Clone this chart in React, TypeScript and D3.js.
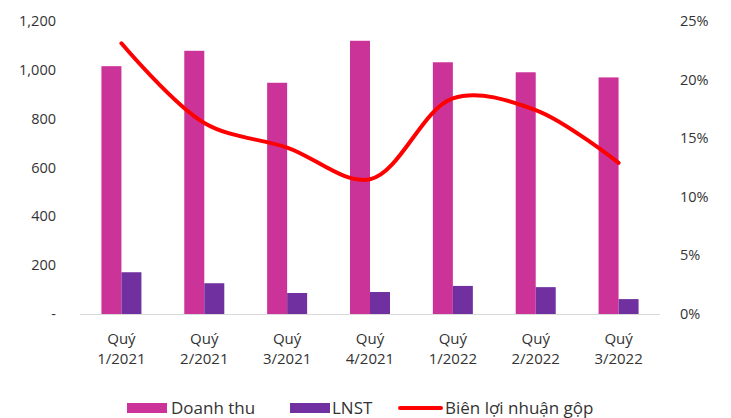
import React from "react";
import * as d3 from "d3";

const quarters = ["Quý\n1/2021", "Quý\n2/2021", "Quý\n3/2021", "Quý\n4/2021", "Quý\n1/2022", "Quý\n2/2022", "Quý\n3/2022"];
const revenue = [1015, 1078, 947, 1119, 1031, 990, 969];
const profit = [171, 126, 86, 90, 115, 110, 61];
const grossMargin = [0.231, 0.163, 0.142, 0.115, 0.184, 0.174, 0.129];
const leftTicks = [0, 200, 400, 600, 800, 1000, 1200];
const rightTicks = [0, 0.05, 0.1, 0.15, 0.2, 0.25];

const W = 731;
const H = 418;
const plot = { left: 80, right: 660, top: 21, bottom: 314 };
const FONT = "'Open Sans', 'Noto Sans', sans-serif";
const PINK = "#CC3399";
const PURPLE = "#7030A0";
const RED = "#FF0000";

export default function App() {
  const x = d3.scaleBand<string>().domain(quarters).range([plot.left, plot.right]);
  const yL = d3.scaleLinear().domain([0, 1200]).range([plot.bottom, plot.top]);
  const yR = d3.scaleLinear().domain([0, 0.25]).range([plot.bottom, plot.top]);
  const barW = 20;
  const cx = (q: string) => (x(q) as number) + x.bandwidth() / 2;

  const line = d3
    .line<number>()
    .x((_, i) => cx(quarters[i]))
    .y((d) => yR(d))
    .curve(d3.curveCatmullRom.alpha(0.5));

  const fmtL = (v: number) => (v === 0 ? "-" : d3.format(",")(v));
  const fmtR = d3.format(".0%");

  return (
    <svg width={W} height={H} style={{ position: "absolute", left: 0, top: 0 }} fontFamily={FONT}>
      <rect width={W} height={H} fill="#fff" />
      {leftTicks.map((t) => (
        <text key={"l" + t} x={56} y={yL(t) + 5} textAnchor="end" fontSize={14.5} fill="#333">
          {fmtL(t)}
        </text>
      ))}
      {rightTicks.map((t) => (
        <text key={"r" + t} x={680} y={yR(t) + 5} textAnchor="start" fontSize={14.5} fill="#333">
          {fmtR(t)}
        </text>
      ))}
      {quarters.map((q, i) => (
        <g key={q}>
          <rect x={cx(q) - barW} y={yL(revenue[i])} width={barW} height={plot.bottom - yL(revenue[i])} fill={PINK} />
          <rect x={cx(q)} y={yL(profit[i])} width={barW} height={plot.bottom - yL(profit[i])} fill={PURPLE} />
        </g>
      ))}
      <line x1={plot.left} x2={plot.right} y1={plot.bottom + 0.5} y2={plot.bottom + 0.5} stroke="#d9d9d9" strokeWidth={1} />
      <path d={line(grossMargin) ?? ""} fill="none" stroke={RED} strokeWidth={4} strokeLinecap="round" />
      {quarters.map((q) => {
        const [a, b] = q.split("\n");
        return (
          <text key={"c" + q} x={cx(q)} textAnchor="middle" fontSize={15} fill="#333">
            <tspan x={cx(q)} y={344}>{a}</tspan>
            <tspan x={cx(q)} y={364}>{b}</tspan>
          </text>
        );
      })}
      <g fontSize={17} fill="#333">
        <rect x={127} y={403} width={40} height={10} fill={PINK} />
        <text x={171} y={414}>Doanh thu</text>
        <rect x={290} y={403} width={40} height={10} fill={PURPLE} />
        <text x={332} y={414}>LNST</text>
        <line x1={400} x2={441} y1={408} y2={408} stroke={RED} strokeWidth={4} strokeLinecap="round" />
        <text x={445} y={414}>Biên lợi nhuận gộp</text>
      </g>
    </svg>
  );
}
